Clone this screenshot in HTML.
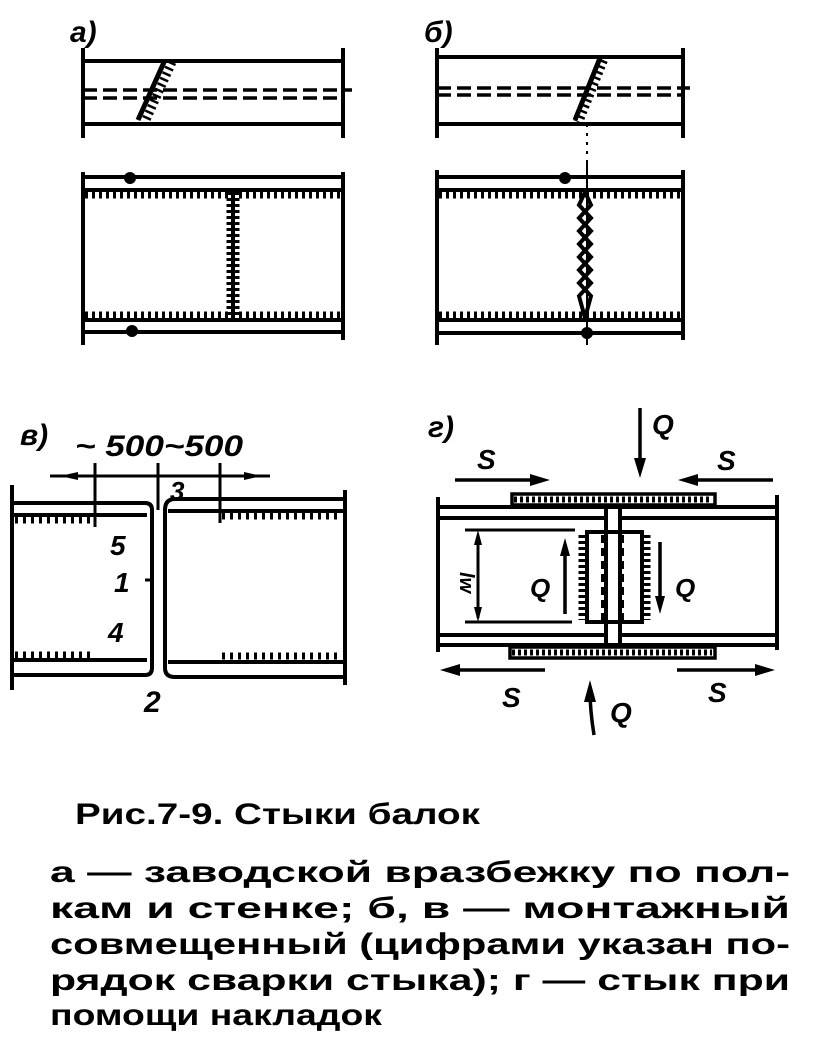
<!DOCTYPE html>
<html><head><meta charset="utf-8"><style>
html,body{margin:0;padding:0;background:#fff;}
svg{display:block;}
text{font-family:"Liberation Sans","DejaVu Sans",sans-serif;fill:#000;}
.it{font-style:italic;font-weight:bold;}
</style></head><body>
<svg width="813" height="1056" viewBox="0 0 813 1056" xmlns="http://www.w3.org/2000/svg">
<g stroke="#000" fill="none" stroke-width="4">
<!-- a) top view -->
<line x1="83" y1="48" x2="83" y2="138"/><line x1="343" y1="48" x2="343" y2="138"/>
<line x1="83" y1="61" x2="343" y2="61"/><line x1="83" y1="124" x2="343" y2="124"/>
<line x1="83" y1="90" x2="352" y2="90" stroke-dasharray="14,6" stroke-width="3.5"/>
<line x1="83" y1="98" x2="343" y2="98" stroke-dasharray="14,6" stroke-width="3.5"/>
<line x1="165" y1="60" x2="138" y2="120" stroke-width="5"/>
<line x1="172" y1="62" x2="145" y2="122" stroke-width="9" stroke-dasharray="2.5,3.5"/>
<!-- a) elevation -->
<line x1="83" y1="172" x2="83" y2="345"/><line x1="343" y1="172" x2="343" y2="340"/>
<line x1="83" y1="177" x2="343" y2="177"/><line x1="83" y1="190" x2="343" y2="190"/>
<line x1="83" y1="320" x2="343" y2="320"/><line x1="83" y1="332" x2="343" y2="332"/>
<line x1="85" y1="195" x2="340" y2="195" stroke-width="7" stroke-dasharray="3,4"/>
<line x1="85" y1="315" x2="340" y2="315" stroke-width="7" stroke-dasharray="3,4"/>
<line x1="233" y1="190" x2="233" y2="320"/>
<line x1="233" y1="192" x2="233" y2="318" stroke-width="13" stroke-dasharray="3,3"/>
<!-- b) top view -->
<line x1="437" y1="48" x2="437" y2="138"/><line x1="683" y1="48" x2="683" y2="138"/>
<line x1="437" y1="57" x2="683" y2="57"/><line x1="437" y1="124" x2="683" y2="124"/>
<line x1="437" y1="88" x2="690" y2="88" stroke-dasharray="14,6" stroke-width="3.5"/>
<line x1="437" y1="95" x2="683" y2="95" stroke-dasharray="14,6" stroke-width="3.5"/>
<line x1="600" y1="58" x2="575" y2="120" stroke-width="5"/>
<line x1="603" y1="60" x2="578" y2="122" stroke-width="10" stroke-dasharray="2.5,3.5"/>
<line x1="587" y1="124" x2="587" y2="160" stroke-width="2" stroke-dasharray="3,6"/>
<!-- b) elevation -->
<line x1="437" y1="170" x2="437" y2="345"/><line x1="683" y1="170" x2="683" y2="340"/>
<line x1="437" y1="177" x2="683" y2="177"/><line x1="437" y1="190" x2="683" y2="190"/>
<line x1="437" y1="320" x2="683" y2="320"/><line x1="437" y1="333" x2="683" y2="333"/>
<line x1="439" y1="195" x2="680" y2="195" stroke-width="7" stroke-dasharray="3,4"/>
<line x1="439" y1="315" x2="680" y2="315" stroke-width="7" stroke-dasharray="3,4"/>
<line x1="587" y1="160" x2="587" y2="345" stroke-width="2"/>
<polyline points="585,192 579,205 591,218 579,231 591,244 579,257 591,270 579,283 591,296 585,318" stroke-width="4"/>
<polyline points="585,192 591,205 579,218 591,231 579,244 591,257 579,270 591,283 579,296 585,318" stroke-width="4"/>
<!-- в) -->
<line x1="12" y1="485" x2="12" y2="690"/><line x1="345" y1="490" x2="345" y2="685"/>
<path d="M12,503 H145 Q152,503 152,510 V668 Q152,675 145,675 H12"/>
<path d="M12,515 H147"/><path d="M12,660 H147"/>
<path d="M345,499 H175 Q165,499 165,510 V668 Q165,677 175,677 H345"/>
<path d="M168,511 H345"/><path d="M168,662 H345"/>
<line x1="15" y1="520" x2="92" y2="520" stroke-width="7" stroke-dasharray="3,5"/>
<line x1="15" y1="655" x2="92" y2="655" stroke-width="7" stroke-dasharray="3,5"/>
<line x1="222" y1="516" x2="342" y2="516" stroke-width="7" stroke-dasharray="3,5"/>
<line x1="222" y1="656" x2="342" y2="656" stroke-width="7" stroke-dasharray="3,5"/>
<line x1="50" y1="476" x2="270" y2="476" stroke-width="3"/>
<line x1="95" y1="463" x2="95" y2="527" stroke-width="3"/>
<line x1="158" y1="463" x2="158" y2="510" stroke-width="3"/>
<line x1="220" y1="463" x2="220" y2="523" stroke-width="3"/>
<line x1="145" y1="580" x2="152" y2="580" stroke-width="3"/>
<!-- г) -->
<line x1="438" y1="497" x2="438" y2="652"/><line x1="777" y1="495" x2="777" y2="650"/>
<rect x="512" y="494" width="203" height="11" stroke-width="3.5"/>
<rect x="510" y="647" width="205" height="11" stroke-width="3.5"/>
<line x1="514" y1="499.5" x2="712" y2="499.5" stroke-width="6" stroke-dasharray="3,3"/>
<line x1="512" y1="652.5" x2="712" y2="652.5" stroke-width="6" stroke-dasharray="3,3"/>
<line x1="440" y1="507" x2="775" y2="507"/><line x1="440" y1="518" x2="605" y2="518"/><line x1="622" y1="518" x2="775" y2="518"/>
<line x1="440" y1="635" x2="605" y2="635"/><line x1="622" y1="635" x2="775" y2="635"/><line x1="440" y1="645" x2="775" y2="645"/>
<line x1="606" y1="505" x2="606" y2="647"/><line x1="620" y1="505" x2="620" y2="647"/>
<rect x="587" y="532" width="55" height="90"/>
<line x1="603" y1="535" x2="603" y2="620" stroke-dasharray="8,5"/>
<line x1="622" y1="535" x2="622" y2="620" stroke-dasharray="8,5"/>
<line x1="582" y1="535" x2="582" y2="620" stroke-width="7" stroke-dasharray="3,3"/>
<line x1="647" y1="535" x2="647" y2="620" stroke-width="7" stroke-dasharray="3,3"/>
<line x1="465" y1="530" x2="575" y2="530" stroke-width="3"/>
<line x1="465" y1="622" x2="572" y2="622" stroke-width="3"/>
<line x1="478" y1="535" x2="478" y2="618" stroke-width="3"/>
<line x1="565" y1="545" x2="565" y2="614" stroke-width="3.5"/>
<line x1="660" y1="542" x2="660" y2="605" stroke-width="3.5"/>
<line x1="640" y1="408" x2="640" y2="470" stroke-width="3.5"/>
<path d="M594,735 Q590,710 590,690" stroke-width="3.5"/>
<line x1="455" y1="480" x2="535" y2="480" stroke-width="3.5"/>
<line x1="695" y1="480" x2="773" y2="480" stroke-width="3.5"/>
<line x1="453" y1="670" x2="545" y2="670" stroke-width="3.5"/>
<line x1="677" y1="670" x2="760" y2="670" stroke-width="3.5"/>
</g>
<g fill="#000">
<circle cx="130" cy="178" r="6"/><circle cx="132" cy="331" r="6"/>
<circle cx="565" cy="178" r="6"/><circle cx="587" cy="333" r="6"/>
<polygon points="478,530 474,545 482,545"/><polygon points="478,622 474,607 482,607"/>
<polygon points="565,538 560,556 570,556"/><polygon points="660,614 655,596 665,596"/>
<polygon points="640,478 634,458 646,458"/><polygon points="590,680 584,702 596,702"/>
<polygon points="550,480 530,474 530,486"/><polygon points="678,480 698,474 698,486"/>
<polygon points="440,670 460,664 460,676"/><polygon points="775,670 755,664 755,676"/>
<polygon points="60,476 78,472 78,480"/><polygon points="262,476 244,472 244,480"/>
</g>
<g class="it" font-size="30">
<text x="70" y="42">а)</text><text x="424" y="42">б)</text>
<text x="20" y="445">в)</text><text x="428" y="437">г)</text>
<text x="75" y="456" font-size="30" textLength="168" lengthAdjust="spacingAndGlyphs">~ 500~500</text>
<text x="170" y="500" font-size="26">3</text>
<text x="110" y="555" font-size="28">5</text>
<text x="114" y="592" font-size="28">1</text>
<text x="108" y="642" font-size="28">4</text>
<text x="144" y="712" font-size="30">2</text>
<text x="652" y="434" font-size="28">Q</text>
<text x="477" y="469" font-size="28">S</text>
<text x="717" y="470" font-size="28">S</text>
<text x="530" y="597" font-size="26">Q</text>
<text x="675" y="597" font-size="26">Q</text>
<text x="502" y="707" font-size="28">S</text>
<text x="708" y="702" font-size="28">S</text>
<text x="610" y="722" font-size="28">Q</text>
<text x="462" y="590" font-size="20" transform="rotate(90 470 580)">lw</text>
</g>
<text x="75" y="824" font-size="30" font-weight="bold" font-family="Liberation Serif,serif" textLength="405" lengthAdjust="spacingAndGlyphs">Рис.7-9. Стыки балок</text>
<g font-size="30" font-weight="bold" font-family="Liberation Sans, sans-serif">
<text x="50" y="882" textLength="740" lengthAdjust="spacingAndGlyphs">а — заводской   вразбежку  по  пол-</text>
<text x="50" y="918" textLength="740" lengthAdjust="spacingAndGlyphs">кам  и  стенке;    б,  в — монтажный</text>
<text x="50" y="954" textLength="740" lengthAdjust="spacingAndGlyphs">совмещенный  (цифрами  указан  по-</text>
<text x="50" y="990" textLength="740" lengthAdjust="spacingAndGlyphs">рядок сварки стыка); г — стык при</text>
<text x="50" y="1025" textLength="332" lengthAdjust="spacingAndGlyphs">помощи накладок</text>
</g>
</svg>
</body></html>
